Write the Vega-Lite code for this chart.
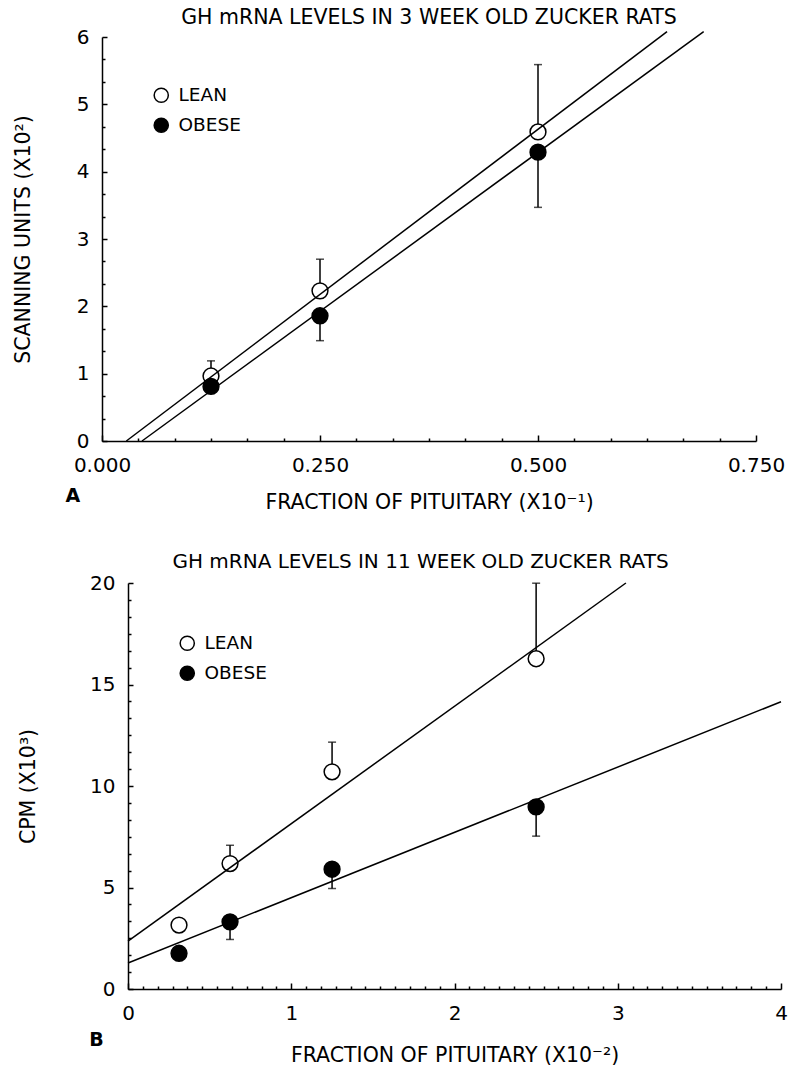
{
  "$schema": "https://vega.github.io/schema/vega-lite/v6.json",
  "padding": {"left": 13, "top": 7, "right": 3, "bottom": 5},
  "background": "white",
  "spacing": 39,
  "config": {
    "font": "DejaVu Sans",
    "view": {"stroke": null},
    "axis": {
      "domainColor": "black", "domainWidth": 1.5,
      "tickColor": "black", "tickWidth": 1.5,
      "labelColor": "black", "titleColor": "black",
      "labelFont": "DejaVu Sans", "titleFont": "DejaVu Sans",
      "labelFontSize": 20, "titleFontSize": 20.5, "titleFontWeight": "normal",
      "grid": false, "labelFlush": false, "labelOverlap": false, "labelBound": false
    },
    "title": {"fontSize": 20.5, "fontWeight": "normal", "color": "black", "font": "DejaVu Sans"},
    "legend": {
      "orient": "none", "title": null,
      "symbolType": "circle", "symbolSize": 200,
      "symbolStrokeColor": "black", "symbolStrokeWidth": 1.5,
      "labelFont": "DejaVu Sans", "labelFontSize": 18.5, "labelColor": "black",
      "labelOffset": 8, "rowPadding": 9
    }
  },
  "datasets": {
    "a_pts": [
      {"frac": 0.125, "units": 0.965, "err": 1.19, "group": "LEAN"},
      {"frac": 0.125, "units": 0.81, "err": null, "group": "OBESE"},
      {"frac": 0.25, "units": 2.23, "err": 2.70, "group": "LEAN"},
      {"frac": 0.25, "units": 1.86, "err": 1.49, "group": "OBESE"},
      {"frac": 0.5, "units": 4.59, "err": 5.59, "group": "LEAN"},
      {"frac": 0.5, "units": 4.29, "err": 3.47, "group": "OBESE"}
    ],
    "a_lines": [
      {"group": "LEAN", "x_start": 0.0279, "y_start": 0, "x_end": 0.648, "y_end": 6.08},
      {"group": "OBESE", "x_start": 0.0459, "y_start": 0, "x_end": 0.690, "y_end": 6.08}
    ],
    "b_pts": [
      {"frac": 0.3125, "cpm": 3.15, "err": null, "group": "LEAN"},
      {"frac": 0.3125, "cpm": 1.76, "err": null, "group": "OBESE"},
      {"frac": 0.625, "cpm": 6.18, "err": 7.08, "group": "LEAN"},
      {"frac": 0.625, "cpm": 3.31, "err": 2.44, "group": "OBESE"},
      {"frac": 1.25, "cpm": 10.7, "err": 12.16, "group": "LEAN"},
      {"frac": 1.25, "cpm": 5.90, "err": 4.95, "group": "OBESE"},
      {"frac": 2.5, "cpm": 16.27, "err": 19.99, "group": "LEAN"},
      {"frac": 2.5, "cpm": 8.97, "err": 7.53, "group": "OBESE"}
    ],
    "b_lines": [
      {"group": "LEAN", "x_start": 0, "y_start": 2.36, "x_end": 3.05, "y_end": 20.0},
      {"group": "OBESE", "x_start": 0, "y_start": 1.28, "x_end": 4, "y_end": 14.15}
    ]
  },
  "resolve": {"scale": {"x": "independent", "y": "independent", "fill": "independent"}, "legend": {"fill": "independent"}},
  "vconcat": [
    {
      "width": 654, "height": 404,
      "title": {"text": "GH mRNA LEVELS IN 3 WEEK OLD ZUCKER RATS", "anchor": "middle", "dy": 5},
      "resolve": {"axis": {"x": "independent", "y": "independent"}},
      "layer": [
        {
          "data": {"name": "a_pts"},
          "transform": [{"filter": "datum.err != null"}],
          "mark": {"type": "rule", "color": "black", "strokeWidth": 1.5},
          "encoding": {
            "x": {"field": "frac", "type": "quantitative", "scale": {"domain": [0, 0.75], "nice": false, "zero": false},
              "axis": {
                "orient": "bottom",
                "values": [0, 0.25, 0.5, 0.75], "format": ".3f",
                "tickSize": -6, "labelPadding": 20, "labelOverlap": false,
                "title": "FRACTION OF PITUITARY (X10⁻¹)", "titlePadding": 17
              }},
            "y": {"field": "units", "type": "quantitative", "scale": {"domain": [0, 6], "nice": false, "zero": false},
              "axis": {
                "orient": "left",
                "values": [0, 1, 2, 3, 4, 5, 6], "format": "d",
                "tickSize": -5, "labelPadding": 18, "labelOverlap": false,
                "title": "SCANNING UNITS (X10²)", "titlePadding": 43
              }},
            "y2": {"field": "err"}
          }
        },
        {
          "data": {"name": "a_pts"},
          "transform": [{"filter": "datum.err != null"}],
          "mark": {"type": "tick", "orient": "horizontal", "color": "black", "size": 8, "thickness": 1.5},
          "encoding": {
            "x": {"field": "frac", "type": "quantitative",
              "axis": {
                "orient": "bottom",
                "values": [0.0416667, 0.0833333, 0.125, 0.1666667, 0.2083333, 0.2916667, 0.3333333, 0.375, 0.4166667, 0.4583333, 0.5416667, 0.5833333, 0.625, 0.6666667, 0.7083333],
                "labels": false, "domain": false, "title": null, "tickSize": -3
              }},
            "y": {"field": "err", "type": "quantitative",
              "axis": {
                "orient": "left",
                "values": [0.3333333, 0.6666667, 1.3333333, 1.6666667, 2.3333333, 2.6666667, 3.3333333, 3.6666667, 4.3333333, 4.6666667, 5.3333333, 5.6666667],
                "labels": false, "domain": false, "title": null, "tickSize": -3
              }}
          }
        },
        {
          "data": {"name": "a_pts"},
          "mark": {"type": "point", "shape": "circle", "filled": true, "size": 250, "stroke": "black", "strokeWidth": 1.5, "opacity": 1},
          "encoding": {
            "x": {"field": "frac", "type": "quantitative", "axis": null},
            "y": {"field": "units", "type": "quantitative", "axis": null},
            "fill": {"field": "group", "type": "nominal", "scale": {"domain": ["LEAN", "OBESE"], "range": ["white", "black"]},
              "legend": {"legendX": 50, "legendY": 49}}
          }
        },
        {
          "data": {"name": "a_lines"},
          "mark": {"type": "rule", "color": "black", "strokeWidth": 1.5},
          "encoding": {
            "x": {"field": "x_start", "type": "quantitative", "axis": null},
            "y": {"field": "y_start", "type": "quantitative", "axis": null},
            "x2": {"field": "x_end"},
            "y2": {"field": "y_end"}
          }
        },
        {
          "data": {"values": [{"panel": "A"}]},
          "mark": {"type": "text", "fontWeight": "bold", "fontSize": 19, "color": "black", "align": "center", "baseline": "middle"},
          "encoding": {
            "x": {"datum": -0.0333, "type": "quantitative", "axis": null},
            "y": {"datum": -0.82, "type": "quantitative", "axis": null},
            "text": {"field": "panel"}
          }
        }
      ]
    },
    {
      "width": 679, "height": 406,
      "title": {"text": "GH mRNA LEVELS IN 11 WEEK OLD ZUCKER RATS", "anchor": "middle", "fontSize": 20, "dy": 3, "dx": -21},
      "resolve": {"axis": {"x": "independent", "y": "independent"}},
      "layer": [
        {
          "data": {"name": "b_pts"},
          "transform": [{"filter": "datum.err != null"}],
          "mark": {"type": "rule", "color": "black", "strokeWidth": 1.5},
          "encoding": {
            "x": {"field": "frac", "type": "quantitative", "scale": {"domain": [0, 4], "range": [26, 679], "nice": false, "zero": false},
              "axis": {
                "orient": "bottom",
                "values": [0, 1, 2, 3, 4], "format": "d",
                "tickSize": -6, "labelPadding": 20, "labelOverlap": false,
                "title": "FRACTION OF PITUITARY (X10⁻²)", "titlePadding": 22
              }},
            "y": {"field": "cpm", "type": "quantitative", "scale": {"domain": [0, 20], "nice": false, "zero": false},
              "axis": {
                "orient": "left", "offset": -26,
                "values": [0, 5, 10, 15, 20], "format": "d",
                "tickSize": -5, "labelPadding": 18, "labelOverlap": false,
                "title": "CPM (X10³)", "titlePadding": 51
              }},
            "y2": {"field": "err"}
          }
        },
        {
          "data": {"name": "b_pts"},
          "transform": [{"filter": "datum.err != null"}],
          "mark": {"type": "tick", "orient": "horizontal", "color": "black", "size": 8, "thickness": 1.5},
          "encoding": {
            "x": {"field": "frac", "type": "quantitative",
              "axis": {
                "orient": "bottom",
                "values": [0.0909091, 0.1818182, 0.2727273, 0.3636364, 0.4545455, 0.5454545, 0.6363636, 0.7272727, 0.8181818, 0.9090909, 1.0909091, 1.1818182, 1.2727273, 1.3636364, 1.4545455, 1.5454545, 1.6363636, 1.7272727, 1.8181818, 1.9090909, 2.0909091, 2.1818182, 2.2727273, 2.3636364, 2.4545455, 2.5454545, 2.6363636, 2.7272727, 2.8181818, 2.9090909, 3.0909091, 3.1818182, 3.2727273, 3.3636364, 3.4545455, 3.5454545, 3.6363636, 3.7272727, 3.8181818, 3.9090909],
                "labels": false, "domain": false, "title": null, "tickSize": -3
              }},
            "y": {"field": "err", "type": "quantitative",
              "axis": {
                "orient": "left", "offset": -26,
                "values": [0.8333333, 1.6666667, 2.5, 3.3333333, 4.1666667, 5.8333333, 6.6666667, 7.5, 8.3333333, 9.1666667, 10.8333333, 11.6666667, 12.5, 13.3333333, 14.1666667, 15.8333333, 16.6666667, 17.5, 18.3333333, 19.1666667],
                "labels": false, "domain": false, "title": null, "tickSize": -3
              }}
          }
        },
        {
          "data": {"name": "b_pts"},
          "mark": {"type": "point", "shape": "circle", "filled": true, "size": 250, "stroke": "black", "strokeWidth": 1.5, "opacity": 1},
          "encoding": {
            "x": {"field": "frac", "type": "quantitative", "axis": null},
            "y": {"field": "cpm", "type": "quantitative", "axis": null},
            "fill": {"field": "group", "type": "nominal", "scale": {"domain": ["LEAN", "OBESE"], "range": ["white", "black"]},
              "legend": {"legendX": 76, "legendY": 51}}
          }
        },
        {
          "data": {"name": "b_lines"},
          "mark": {"type": "rule", "color": "black", "strokeWidth": 1.5},
          "encoding": {
            "x": {"field": "x_start", "type": "quantitative", "axis": null},
            "y": {"field": "y_start", "type": "quantitative", "axis": null},
            "x2": {"field": "x_end"},
            "y2": {"field": "y_end"}
          }
        },
        {
          "data": {"values": [{"panel": "B"}]},
          "mark": {"type": "text", "fontWeight": "bold", "fontSize": 19, "color": "black", "align": "center", "baseline": "middle"},
          "encoding": {
            "x": {"datum": -0.193, "type": "quantitative", "axis": null},
            "y": {"datum": -2.5, "type": "quantitative", "axis": null},
            "text": {"field": "panel"}
          }
        }
      ]
    }
  ]
}
